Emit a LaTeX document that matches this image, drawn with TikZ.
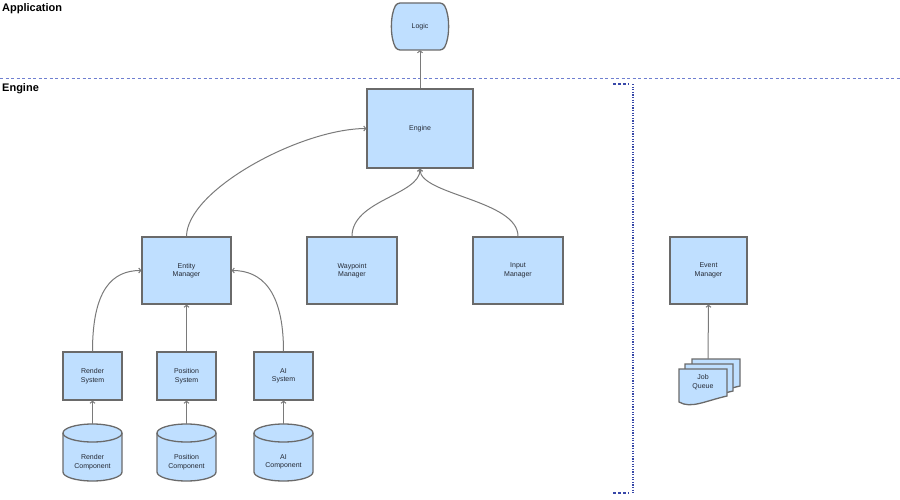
\documentclass[tikz,border=0pt]{standalone}
\usepackage{fontspec}
\setmainfont{Liberation Sans}
\usetikzlibrary{arrows.meta}
\definecolor{boxFill}{HTML}{BFDFFF}
\definecolor{boxLine}{HTML}{6A6A6A}
\definecolor{arrowGray}{HTML}{7A7A7A}
\definecolor{layerBlue}{HTML}{6F7FD0}
\definecolor{bracketBlue}{HTML}{3848A8}
\definecolor{labelText}{HTML}{252A35}

\begin{document}
\begin{tikzpicture}[x=1pt, y=1pt,
    every node/.style={font=\fontsize{7}{8.5}\selectfont, text=labelText, align=center},
    box/.style={draw=boxLine, line width=1.3pt, fill=boxFill, inner sep=0pt},
    link/.style={draw=arrowGray, line width=1pt, -{Straight Barb[length=2pt, width=5pt]}},
    layer/.style={font=\bfseries\fontsize{11}{13}\selectfont, text=black, anchor=north west, inner sep=1pt}]
    \useasboundingbox (0,0) rectangle (900,-500);

    % layers
    \node[layer] (app) at (1,-2) {Application};
    \node[layer] (eng) at (1,-82) {Engine};
    \draw[layerBlue, line width=0.7pt, dash pattern=on 3pt off 2.5pt] (0,-78) -- (900,-78);
    \draw[bracketBlue, line width=1.3pt, dash pattern=on 3pt off 2pt] (613,-84) -- (629,-84);
    \draw[bracketBlue, line width=1.3pt, dash pattern=on 3pt off 2pt] (613,-493) -- (629,-493);
    \draw[bracketBlue, line width=1.3pt, dash pattern=on 1.3pt off 1.3pt] (633,-84) -- (633,-494);

    % logic
    \coordinate (logic) at (420,-26.5);
    \draw[box, rounded corners=3pt] ([shift={(-23,23.5)}]logic) .. controls +(-7,-12) and +(-7,12) .. ([shift={(-23,-23.5)}]logic)
        -- ([shift={(23,-23.5)}]logic) .. controls +(7,12) and +(7,-12) .. ([shift={(23,23.5)}]logic) -- cycle;
    \node[minimum width=48pt, minimum height=47pt, inner sep=0pt] (logic) at (420,-26.5) {Logic};

    % managers
    \node[box, minimum width=106pt, minimum height=79pt] (engine) at (420,-128.5) {Engine};
    \node[box, minimum width=89pt, minimum height=67pt] (entity) at (186.5,-270.5) {Entity\\Manager};
    \node[box, minimum width=90pt, minimum height=67pt] (waypoint) at (352,-270.5) {Waypoint\\Manager};
    \node[box, minimum width=90pt, minimum height=67pt] (input) at (518,-270.5) {Input\\Manager};
    \node[box, minimum width=77pt, minimum height=67pt] (event) at (708.5,-270.5) {Event\\Manager};

    % systems
    \node[box, minimum width=59pt, minimum height=48pt] (rsys) at (92.5,-376) {Render\\System};
    \node[box, minimum width=59pt, minimum height=48pt] (psys) at (186.5,-376) {Position\\System};
    \node[box, minimum width=59pt, minimum height=48pt] (asys) at (283.5,-376) {AI\\System};

    % components
    \foreach \cx/\nm/\txt in {92.5/rcomp/Render, 186.5/pcomp/Position, 283.5/acomp/AI} {
        \draw[box] (\cx-29.5,-433) -- (\cx-29.5,-472) arc (180:360:29.5 and 9)
            -- (\cx+29.5,-433) arc (0:180:29.5 and 9) -- cycle;
        \draw[boxLine, line width=1.3pt] (\cx-29.5,-433) arc (180:360:29.5 and 9);
        \node (\nm) at (\cx,-462) {\txt\\Component};
        \coordinate (\nm top) at (\cx,-424);
    }

    % job queue
    \foreach \dx/\dy in {13/10, 6/5, 0/0} {
        \draw[box, shift={(679+\dx,-369+\dy)}] (0,0) -- (48,0) -- (48,-27)
            .. controls (26,-32) and (12,-40) .. (0,-33) -- cycle;
    }
    \node (jobq) at (703,-382) {Job\\Queue};
    \coordinate (jobtop) at (708,-359);

    % connectors
    \draw[link] (engine.north) -- (logic.south);
    \draw[link] (entity.north) .. controls (187,-190) and (300,-129) .. (engine.west);
    \draw[link] (waypoint.north) .. controls (352,-200) and (420,-195) .. (engine.south);
    \draw[link] (input.north) .. controls (518,-200) and (420,-195) .. (engine.south);
    \draw[link] (rsys.north) .. controls (92.5,-290) and (112,-270.5) .. (entity.west);
    \draw[link] (psys.north) -- (entity.south);
    \draw[link] (asys.north) .. controls (283.5,-290) and (261,-270.5) .. (entity.east);
    \draw[link] (rcomptop) -- (rsys.south);
    \draw[link] (pcomptop) -- (psys.south);
    \draw[link] (acomptop) -- (asys.south);
    \draw[link] (jobtop) -- (event.south);
\end{tikzpicture}
\end{document}
